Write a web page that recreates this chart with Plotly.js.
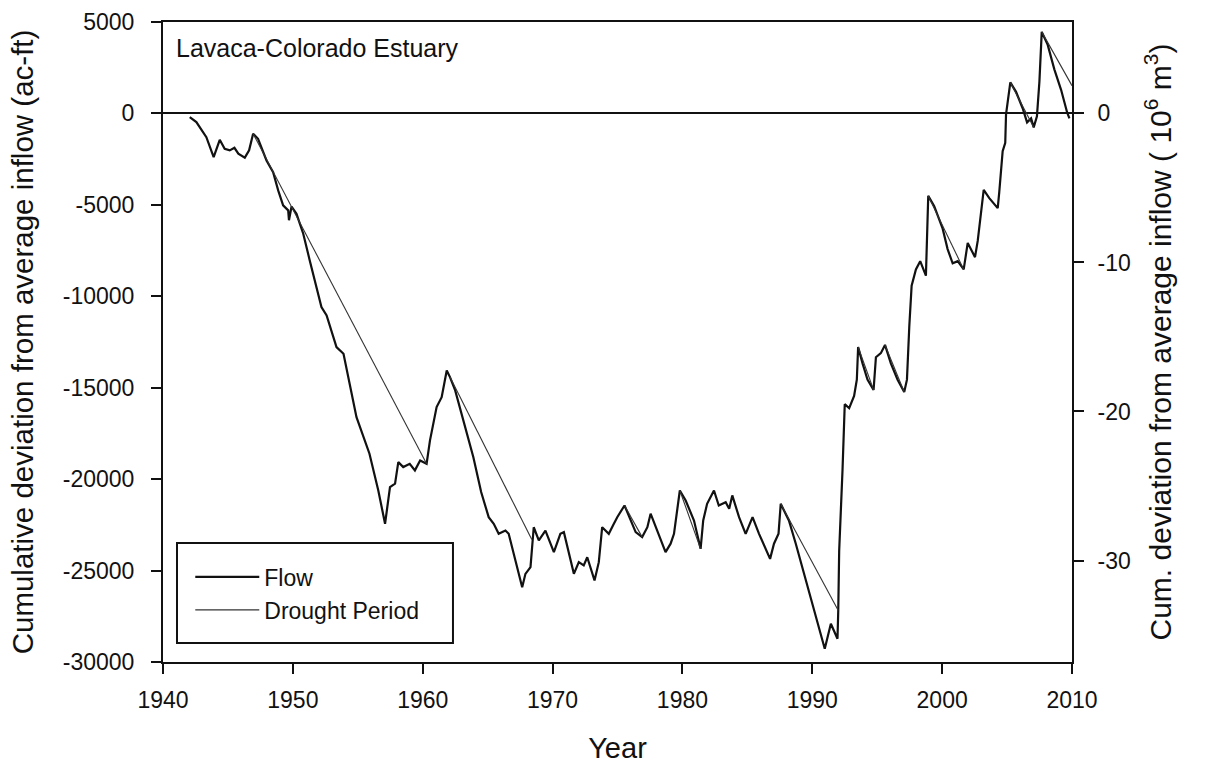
<!DOCTYPE html>
<html>
<head>
<meta charset="utf-8">
<script src="https://cdn.plot.ly/plotly-3.0.1.min.js"></script>
<style>html,body{margin:0;padding:0;background:#fff;}#chart{width:1206px;height:769px;}</style>
</head>
<body>
<div id="chart"></div>
<script>
// Flow: cumulative deviation from average inflow (ac-ft)
const flowYears = [1942.06,1942.3,1942.57,1943.34,1943.9,1944.37,1944.75,1945.14,1945.5,1945.8,1946.3,1946.63,1946.94,1947.32,1947.97,1948.48,1948.87,1949.25,1949.64,1949.7,1949.9,1950.28,1950.8,1951.3,1952.2,1952.6,1953.36,1953.9,1954.9,1955.9,1956.58,1957.1,1957.48,1957.87,1958.12,1958.5,1959.0,1959.4,1959.8,1960.3,1960.56,1961.07,1961.46,1961.85,1962.1,1962.5,1963.13,1963.9,1964.5,1965.08,1965.47,1965.85,1966.37,1966.62,1967.14,1967.66,1967.91,1968.3,1968.55,1968.94,1969.45,1970.1,1970.6,1970.87,1971.64,1972.02,1972.4,1972.67,1973.23,1973.56,1973.82,1974.33,1974.72,1974.98,1975.54,1976.0,1976.4,1976.9,1977.3,1977.55,1978.06,1978.7,1979.09,1979.35,1979.8,1980.25,1980.89,1981.4,1981.6,1981.9,1982.43,1982.8,1983.33,1983.6,1983.84,1984.36,1984.87,1985.4,1985.9,1986.4,1986.75,1987.05,1987.4,1987.57,1988.2,1988.73,1989.5,1990.14,1990.52,1990.96,1991.43,1991.94,1992.0,1992.07,1992.33,1992.5,1992.84,1993.22,1993.43,1993.53,1993.87,1994.25,1994.72,1994.9,1995.28,1995.6,1996.05,1996.57,1997.08,1997.29,1997.47,1997.65,1997.98,1998.31,1998.75,1998.93,1999.39,2000.04,2000.42,2000.81,2001.2,2001.66,2001.97,2002.22,2002.53,2002.74,2003.2,2003.63,2004.28,2004.4,2004.66,2004.86,2004.92,2005.25,2005.69,2006.2,2006.54,2006.85,2007.05,2007.3,2007.49,2007.67,2008.13,2008.64,2009.16,2009.62,2009.8];
const flowValues = [-200,-350,-475,-1296,-2390,-1440,-1930,-2020,-1880,-2200,-2420,-2020,-1110,-1385,-2570,-3210,-4210,-5030,-5300,-5840,-5090,-5490,-6580,-8040,-10590,-11050,-12780,-13140,-16610,-18610,-20620,-22440,-20440,-20250,-19070,-19340,-19160,-19520,-18980,-19160,-17880,-16060,-15520,-14060,-14420,-15150,-16790,-18800,-20700,-22080,-22440,-22990,-22810,-22990,-24450,-25910,-25180,-24810,-22630,-23350,-22810,-23990,-22990,-22900,-25180,-24540,-24720,-24270,-25540,-24540,-22630,-22990,-22440,-22080,-21440,-22260,-22900,-23170,-22630,-21890,-22810,-23990,-23530,-22990,-20620,-21170,-22260,-23810,-22260,-21350,-20620,-21440,-21260,-21620,-20890,-22080,-22990,-22080,-22990,-23810,-24360,-23530,-22990,-21350,-22260,-23530,-25540,-27180,-28090,-29280,-27910,-28730,-27180,-23930,-19470,-15900,-16120,-15450,-14560,-12770,-13670,-14560,-15120,-13330,-13110,-12660,-13670,-14560,-15230,-14560,-11650,-9420,-8530,-8080,-8870,-4510,-5070,-6300,-7420,-8200,-8080,-8530,-7080,-7420,-7860,-6970,-4180,-4630,-5180,-4290,-2060,-1610,-50,1695,1180,285,-490,-270,-760,-160,1740,4460,3750,2410,1290,65,-270];

// Drought periods: start/end points, separated by gaps (null)
const droughtYears = [1946.94,1960.3,null,1962.1,1968.4,null,1975.54,1976.9,null,1979.8,1981.4,null,1987.57,1992.0,null,1993.53,1994.72,null,1995.6,1997.08,null,1998.93,2001.66,null,2005.25,2007.05,null,2007.67,2010.0];
const droughtValues = [-1110,-19160,null,-14420,-23300,null,-21440,-23170,null,-20620,-23810,null,-21350,-27180,null,-12770,-15120,null,-12660,-15230,null,-4510,-8530,null,1695,-760,null,4460,1515];

const xTicks = [1940,1950,1960,1970,1980,1990,2000,2010];
const xTickText = ['1940','1950','1960','1970','1980','1990','2000','2010'];
const yTicks = [5000,0,-5000,-10000,-15000,-20000,-25000,-30000];
const yTickText = ['5000','0','-5000','-10000','-15000','-20000','-25000','-30000'];
const y2Ticks = [0,-10,-20,-30];
const y2TickText = ['0','-10','-20','-30'];
const MCM_PER_UNIT = 0.001227; // right-axis scale relative to left axis
const yRange = [-30000, 5000];

const FONT = 'Liberation Sans, Arial, sans-serif';

const traces = [
  {x: flowYears, y: flowValues, type: 'scatter', mode: 'lines', name: 'Flow',
   line: {color: '#111', width: 2.2}, hoverinfo: 'x+y'},
  {x: droughtYears, y: droughtValues, type: 'scatter', mode: 'lines', name: 'Drought Period',
   connectgaps: false, line: {color: '#333', width: 1.1}, hoverinfo: 'x+y'},
  {x: [null], y: [null], type: 'scatter', mode: 'lines', yaxis: 'y2', showlegend: false, hoverinfo: 'skip'}
];

const layout = {
  width: 1206, height: 769,
  margin: {l: 163, r: 134, t: 22, b: 107},
  paper_bgcolor: '#fff', plot_bgcolor: '#fff',
  font: {family: FONT, color: '#111', size: 23},
  showlegend: true,
  xaxis: {
    range: [1940, 2010], tickvals: xTicks, ticktext: xTickText,
    showgrid: false, zeroline: false, showline: true, linecolor: '#111', linewidth: 2,
    mirror: true, ticks: 'outside', ticklen: 10, tickwidth: 2, tickcolor: '#111',
    tickfont: {size: 23}, ticklabelstandoff: 6,
    title: {text: 'Year', font: {size: 29}, standoff: 26}
  },
  yaxis: {
    range: yRange, tickvals: yTicks, ticktext: yTickText,
    showgrid: false, zeroline: true, zerolinecolor: '#111', zerolinewidth: 2,
    showline: true, linecolor: '#111', linewidth: 2,
    ticks: 'outside', ticklen: 10, tickwidth: 2, tickcolor: '#111',
    tickfont: {size: 23}, ticklabelstandoff: 12,
    title: {text: 'Cumulative deviation from average inflow (ac-ft)', font: {size: 29.5}, standoff: 20}
  },
  yaxis2: {
    overlaying: 'y', side: 'right',
    range: [yRange[0] * MCM_PER_UNIT, yRange[1] * MCM_PER_UNIT],
    tickvals: y2Ticks, ticktext: y2TickText,
    showgrid: false, zeroline: false, showline: true, linecolor: '#111', linewidth: 2,
    ticks: 'outside', ticklen: 10, tickwidth: 2, tickcolor: '#111',
    tickfont: {size: 23}, ticklabelstandoff: 9,
    title: {text: 'Cum. deviation from average inflow ( 10<sup>6</sup> m<sup>3</sup>)', font: {size: 30}, standoff: 20}
  },
  legend: {
    x: 0.03, y: 0.107, xanchor: 'left', yanchor: 'middle',
    bgcolor: 'rgba(0,0,0,0)', borderwidth: 0,
    font: {size: 23, color: '#111'}, itemwidth: 64, traceorder: 'normal'
  },
  shapes: [
    {type: 'rect', xref: 'paper', yref: 'paper', x0: 0.0154, x1: 0.319, y0: 0.0297, y1: 0.186,
     line: {color: '#111', width: 2}, fillcolor: '#fff', layer: 'below'}
  ],
  annotations: [
    {text: 'Lavaca-Colorado Estuary', xref: 'paper', yref: 'paper', x: 0.012, y: 0.96,
     xanchor: 'left', yanchor: 'middle', showarrow: false, font: {size: 25, color: '#111'}}
  ]
};

Plotly.newPlot('chart', traces, layout, {displayModeBar: false, staticPlot: true});
</script>
</body>
</html>
